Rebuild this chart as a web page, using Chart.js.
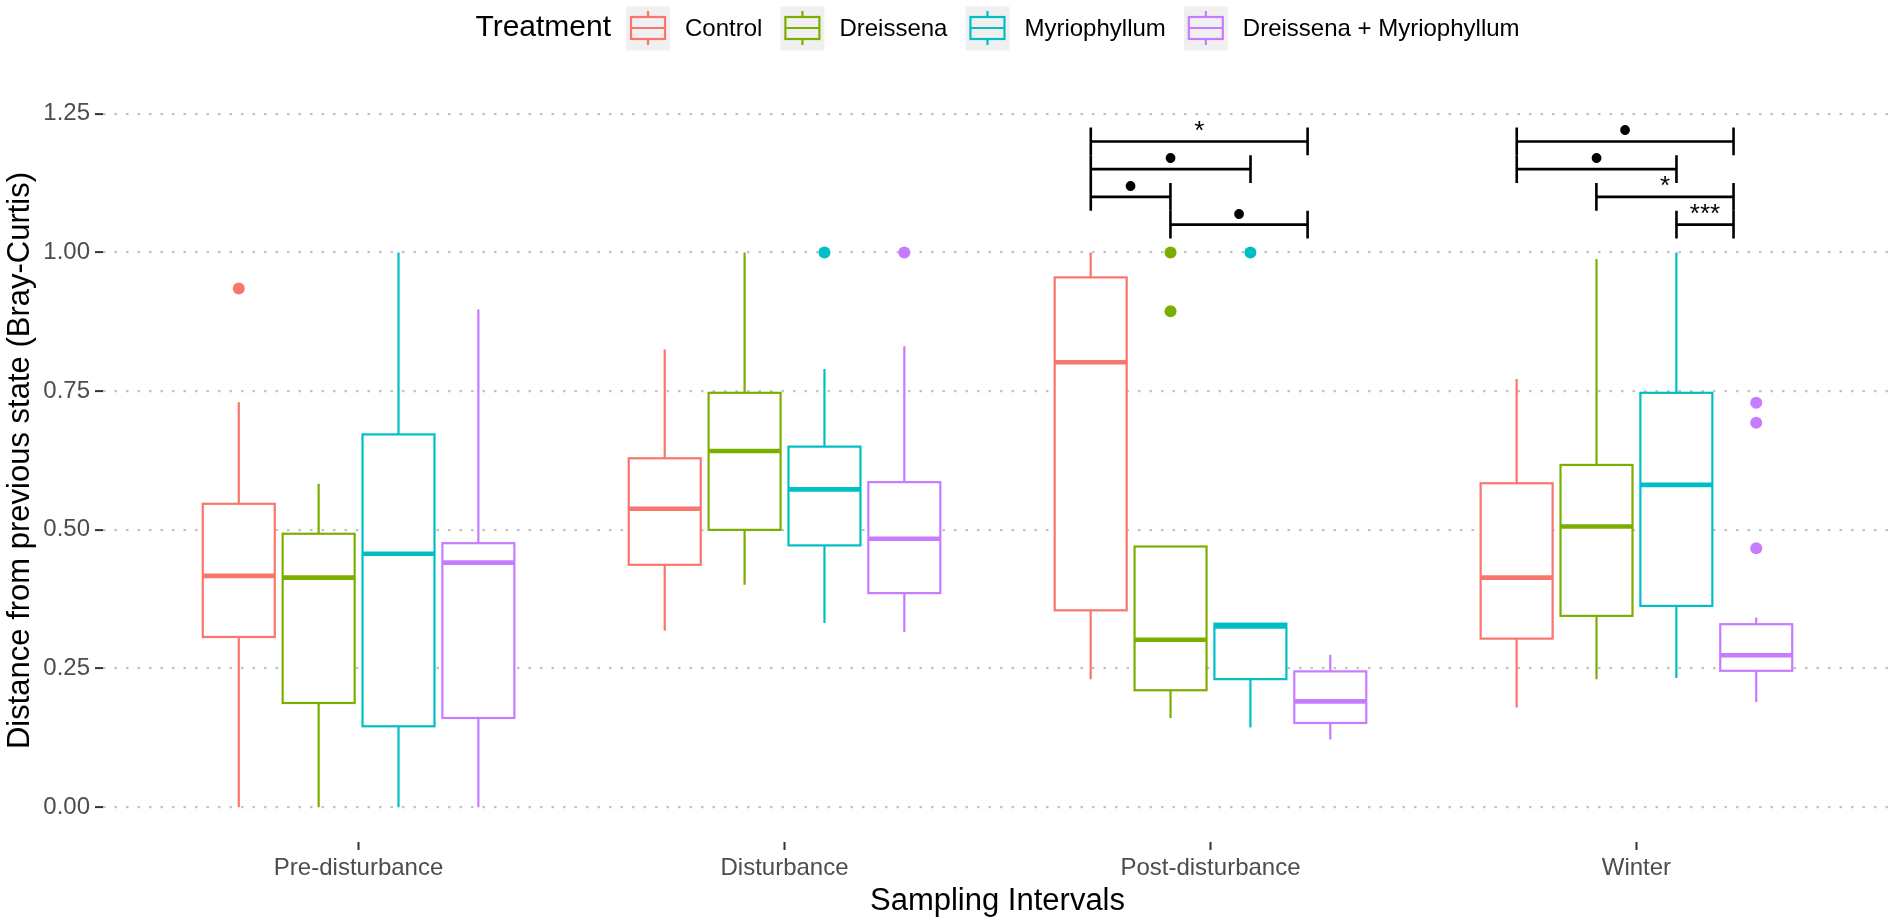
<!DOCTYPE html>
<html>
<head>
<meta charset="utf-8">
<script src="https://cdn.jsdelivr.net/npm/chart.js@4.4.1/dist/chart.umd.min.js"></script>
<style>
  html, body { margin: 0; padding: 0; background: #fff; overflow: hidden; }
  canvas { display: block; }
</style>
</head>
<body>
<canvas id="chart" width="1898" height="921"></canvas>
<script>
const categories = ['Pre-disturbance', 'Disturbance', 'Post-disturbance', 'Winter'];
const treatments = ['Control', 'Dreissena', 'Myriophyllum', 'Dreissena + Myriophyllum'];
const colors = ['#F8766D', '#7CAE00', '#00BFC4', '#C77CFF'];

// one row per interval: [lower whisker, Q1, median, Q3, upper whisker]
const controlStats = [
  [0.000, 0.307, 0.417, 0.547, 0.730],
  [0.318, 0.437, 0.538, 0.629, 0.825],
  [0.231, 0.355, 0.802, 0.955, 1.000],
  [0.180, 0.304, 0.414, 0.584, 0.772]
];
const dreissenaStats = [
  [0.000, 0.188, 0.414, 0.493, 0.583],
  [0.401, 0.500, 0.642, 0.747, 1.000],
  [0.161, 0.211, 0.302, 0.470, 0.470],
  [0.231, 0.345, 0.506, 0.617, 0.988]
];
const myrioStats = [
  [0.000, 0.146, 0.457, 0.672, 1.000],
  [0.332, 0.472, 0.573, 0.650, 0.790],
  [0.144, 0.231, 0.326, 0.331, 0.331],
  [0.233, 0.363, 0.581, 0.747, 1.000]
];
const bothStats = [
  [0.000, 0.161, 0.441, 0.476, 0.897],
  [0.316, 0.386, 0.484, 0.586, 0.831],
  [0.122, 0.152, 0.191, 0.245, 0.275],
  [0.190, 0.246, 0.274, 0.330, 0.342]
];

// outliers: [interval index, value]
const controlOutliers = [[0, 0.935]];
const dreissenaOutliers = [[2, 1.000], [2, 0.894]];
const myrioOutliers = [[1, 1.000], [2, 1.000]];
const bothOutliers = [[1, 1.000], [3, 0.729], [3, 0.693], [3, 0.467]];

const yTicks = [0, 0.25, 0.5, 0.75, 1.0, 1.25];

// significance brackets: [xmin, xmax, y, label] on the interval axis (1..4)
const postBrackets = [
  [2.719, 3.228, 1.20, '*'],
  [2.719, 3.094, 1.15, '\u2022'],
  [2.719, 2.906, 1.10, '\u2022'],
  [2.906, 3.228, 1.05, '\u2022']
];
const winterBrackets = [
  [3.719, 4.228, 1.20, '\u2022'],
  [3.719, 4.094, 1.15, '\u2022'],
  [3.906, 4.228, 1.10, '*'],
  [4.094, 4.228, 1.05, '***']
];

const allStats = [controlStats, dreissenaStats, myrioStats, bothStats];
const allOutliers = [controlOutliers, dreissenaOutliers, myrioOutliers, bothOutliers];
const FONT = "'Liberation Sans', Arial, Helvetica, sans-serif";
const dodge = 0.1875;   // distance between neighbouring boxes
const boxWidth = 0.169;

const xFor = (cat, t) => cat + 1 + (t - 1.5) * dodge;

// boxes + whiskers, drawn under the outlier points
const boxPlugin = {
  id: 'boxes',
  beforeDatasetsDraw(chart) {
    const { ctx, scales: { x, y } } = chart;
    const half = (x.getPixelForValue(boxWidth) - x.getPixelForValue(0)) / 2;
    ctx.save();
    allStats.forEach((rows, t) => {
      rows.forEach((s, c) => {
        const cx = x.getPixelForValue(xFor(c, t));
        const [lo, q1, med, q3, hi] = s.map(v => y.getPixelForValue(v));
        ctx.strokeStyle = colors[t];
        ctx.lineWidth = 2.2;
        ctx.beginPath();
        ctx.moveTo(cx, q3); ctx.lineTo(cx, hi);
        ctx.moveTo(cx, q1); ctx.lineTo(cx, lo);
        ctx.stroke();
        ctx.fillStyle = '#ffffff';
        ctx.fillRect(cx - half, q3, half * 2, q1 - q3);
        ctx.strokeRect(cx - half, q3, half * 2, q1 - q3);
        ctx.lineWidth = 4.6;
        ctx.beginPath();
        ctx.moveTo(cx - half, med); ctx.lineTo(cx + half, med);
        ctx.stroke();
      });
    });
    ctx.restore();
  }
};

// significance brackets with end caps and labels
const bracketPlugin = {
  id: 'brackets',
  afterDatasetsDraw(chart) {
    const { ctx, scales: { x, y } } = chart;
    ctx.save();
    ctx.strokeStyle = '#000';
    ctx.fillStyle = '#000';
    ctx.lineWidth = 2.6;
    ctx.textAlign = 'center';
    ctx.textBaseline = 'alphabetic';
    postBrackets.concat(winterBrackets).forEach(([x0, x1, v, label]) => {
      const px0 = x.getPixelForValue(x0);
      const px1 = x.getPixelForValue(x1);
      const py = y.getPixelForValue(v);
      const cap = y.getPixelForValue(v - 0.025) - py;
      ctx.beginPath();
      ctx.moveTo(px0, py); ctx.lineTo(px1, py);
      ctx.moveTo(px0, py - cap); ctx.lineTo(px0, py + cap);
      ctx.moveTo(px1, py - cap); ctx.lineTo(px1, py + cap);
      ctx.stroke();
      if (label === '\u2022') {
        ctx.font = `36px ${FONT}`;
        ctx.fillText(label, (px0 + px1) / 2, py + 1);
      } else {
        ctx.font = `26px ${FONT}`;
        ctx.fillText(label, (px0 + px1) / 2, py - 2.5);
      }
    });
    ctx.restore();
  }
};

// ggplot-like legend across the top
const legendPlugin = {
  id: 'topLegend',
  afterDraw(chart) {
    const { ctx, chartArea } = chart;
    const keySize = 44, gapKey = 15, gapItem = 18, base = 36, keyTop = 6.5;
    ctx.save();
    ctx.font = `30px ${FONT}`;
    const titleW = ctx.measureText('Treatment').width;
    ctx.font = `24px ${FONT}`;
    const widths = treatments.map(t => ctx.measureText(t).width);
    let total = titleW;
    widths.forEach((w, i) => { total += gapKey + keySize + gapKey + w + (i < widths.length - 1 ? gapItem - gapKey : 0); });
    let px = (chartArea.left + chartArea.right) / 2 - total / 2;

    ctx.fillStyle = '#000';
    ctx.textBaseline = 'alphabetic';
    ctx.textAlign = 'left';
    ctx.font = `30px ${FONT}`;
    ctx.fillText('Treatment', px, base);
    px += titleW;

    treatments.forEach((name, i) => {
      px += (i === 0 ? gapKey : gapItem);
      ctx.fillStyle = '#f0f0f0';
      ctx.fillRect(px, keyTop, keySize, keySize);
      const cx = px + keySize / 2, cy = keyTop + keySize / 2 - 0.5;
      ctx.strokeStyle = colors[i];
      ctx.lineWidth = 2.2;
      ctx.beginPath();
      ctx.moveTo(cx, cy - 17); ctx.lineTo(cx, cy - 11);
      ctx.moveTo(cx, cy + 11); ctx.lineTo(cx, cy + 17);
      ctx.moveTo(px + 5, cy); ctx.lineTo(px + keySize - 5, cy);
      ctx.stroke();
      ctx.strokeRect(px + 5, cy - 11, keySize - 10, 22);
      px += keySize + gapKey;
      ctx.fillStyle = '#000';
      ctx.font = `24px ${FONT}`;
      ctx.fillText(name, px, base);
      px += widths[i];
    });
    ctx.restore();
  }
};

Chart.defaults.font.family = FONT;

new Chart(document.getElementById('chart'), {
  type: 'scatter',
  data: {
    datasets: treatments.map((name, t) => ({
      label: name,
      data: allOutliers[t].map(([c, v]) => ({ x: xFor(c, t), y: v })),
      backgroundColor: colors[t],
      borderWidth: 0,
      pointRadius: 6,
      pointHoverRadius: 6
    }))
  },
  options: {
    responsive: false,
    animation: false,
    devicePixelRatio: 1,
    layout: { padding: { top: 79, right: 4, bottom: 0, left: 0 } },
    plugins: { legend: { display: false }, tooltip: { enabled: false } },
    scales: {
      x: {
        type: 'linear',
        min: 0.4,
        max: 4.6,
        afterBuildTicks: s => { s.ticks = categories.map((_, i) => ({ value: i + 1 })); },
        afterFit: s => { s.height = 79; },
        ticks: {
          callback: v => categories[Math.round(v) - 1],
          color: '#4d4d4d',
          font: { size: 24 },
          padding: 4,
          maxRotation: 0,
          autoSkip: false
        },
        grid: { drawOnChartArea: false, drawTicks: true, tickLength: 8, tickColor: '#333333', tickWidth: 2 },
        border: { display: false },
        title: { display: true, text: 'Sampling Intervals', color: '#000', font: { size: 31 }, padding: { top: 0, bottom: 1 } }
      },
      y: {
        min: -0.0625,
        max: 1.3125,
        afterBuildTicks: s => { s.ticks = yTicks.map(v => ({ value: v })); },
        afterFit: s => { s.width = 103; },
        ticks: {
          callback: v => Number(v).toFixed(2),
          color: '#4d4d4d',
          font: { size: 24 },
          padding: 5
        },
        grid: { color: '#c2c2c2', lineWidth: 2.2, tickLength: 8, tickColor: '#333333', tickWidth: 2 },
        border: { display: false, dash: [2.5, 9] },
        title: { display: true, text: 'Distance from previous state (Bray-Curtis)', color: '#000', font: { size: 31 }, padding: { top: 2, bottom: 0 } }
      }
    }
  },
  plugins: [boxPlugin, bracketPlugin, legendPlugin]
});
</script>
</body>
</html>
